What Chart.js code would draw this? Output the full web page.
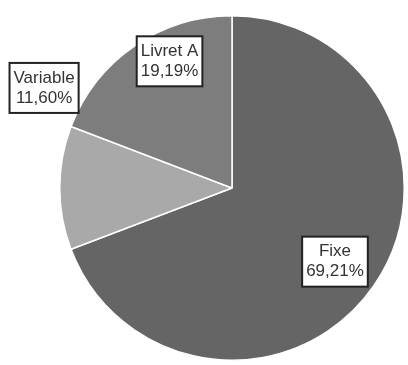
<!DOCTYPE html>
<html>
<head>
<meta charset="utf-8">
<script src="https://cdn.jsdelivr.net/npm/chart.js@4/dist/chart.umd.min.js"></script>
<style>
  html, body { margin: 0; padding: 0; background: #ffffff; }
  #wrap { width: 408px; height: 365px; position: relative; }
</style>
</head>
<body>
<div id="wrap"><canvas id="pieChart"></canvas></div>
<script>
// Données du graphique
const categories = ['Fixe', 'Variable', 'Livret A'];
const parts = [69.21, 11.60, 19.19];
const pctLabels = ['69,21%', '11,60%', '19,19%'];

// Couleurs des parts
const sliceColors = ['#656565', '#a9a9a9', '#7d7d7d'];

// Placement des étiquettes : fraction du rayon et décalage d'angle (degrés)
const labelRadius = [0.735, 1.236, 0.82];
const labelShift = [1, 28, 8.3];

const boxLabels = {
    id: 'boxLabels',
    afterDatasetsDraw(chart) {
        const ctx = chart.ctx;
        const meta = chart.getDatasetMeta(0);
        ctx.save();
        ctx.font = '17px "Liberation Sans", Arial, sans-serif';
        ctx.textAlign = 'center';
        ctx.textBaseline = 'middle';
        meta.data.forEach((arc, i) => {
            const mid = (arc.startAngle + arc.endAngle) / 2 + labelShift[i] * Math.PI / 180;
            const r = arc.outerRadius * labelRadius[i];
            const cx = arc.x + Math.cos(mid) * r;
            const cy = arc.y + Math.sin(mid) * r;
            const lines = [categories[i], pctLabels[i]];
            const w = Math.max(...lines.map(t => ctx.measureText(t).width)) + 8;
            const h = 50;
            ctx.fillStyle = '#ffffff';
            ctx.fillRect(cx - w / 2, cy - h / 2, w, h);
            ctx.strokeStyle = '#222222';
            ctx.lineWidth = 2;
            ctx.strokeRect(cx - w / 2, cy - h / 2, w, h);
            ctx.fillStyle = '#333333';
            ctx.fillText(lines[0], cx, cy - 10);
            ctx.fillText(lines[1], cx, cy + 10);
        });
        ctx.restore();
    }
};

new Chart(document.getElementById('pieChart'), {
    type: 'pie',
    data: {
        labels: categories,
        datasets: [{
            data: parts,
            backgroundColor: sliceColors,
            borderColor: '#ffffff',
            borderWidth: 1.5
        }]
    },
    options: {
        responsive: true,
        maintainAspectRatio: false,
        animation: false,
        layout: { padding: { left: 59, right: 3, top: 15, bottom: 4 } },
        plugins: {
            legend: { display: false },
            tooltip: { enabled: false }
        }
    },
    plugins: [boxLabels]
});
</script>
</body>
</html>
